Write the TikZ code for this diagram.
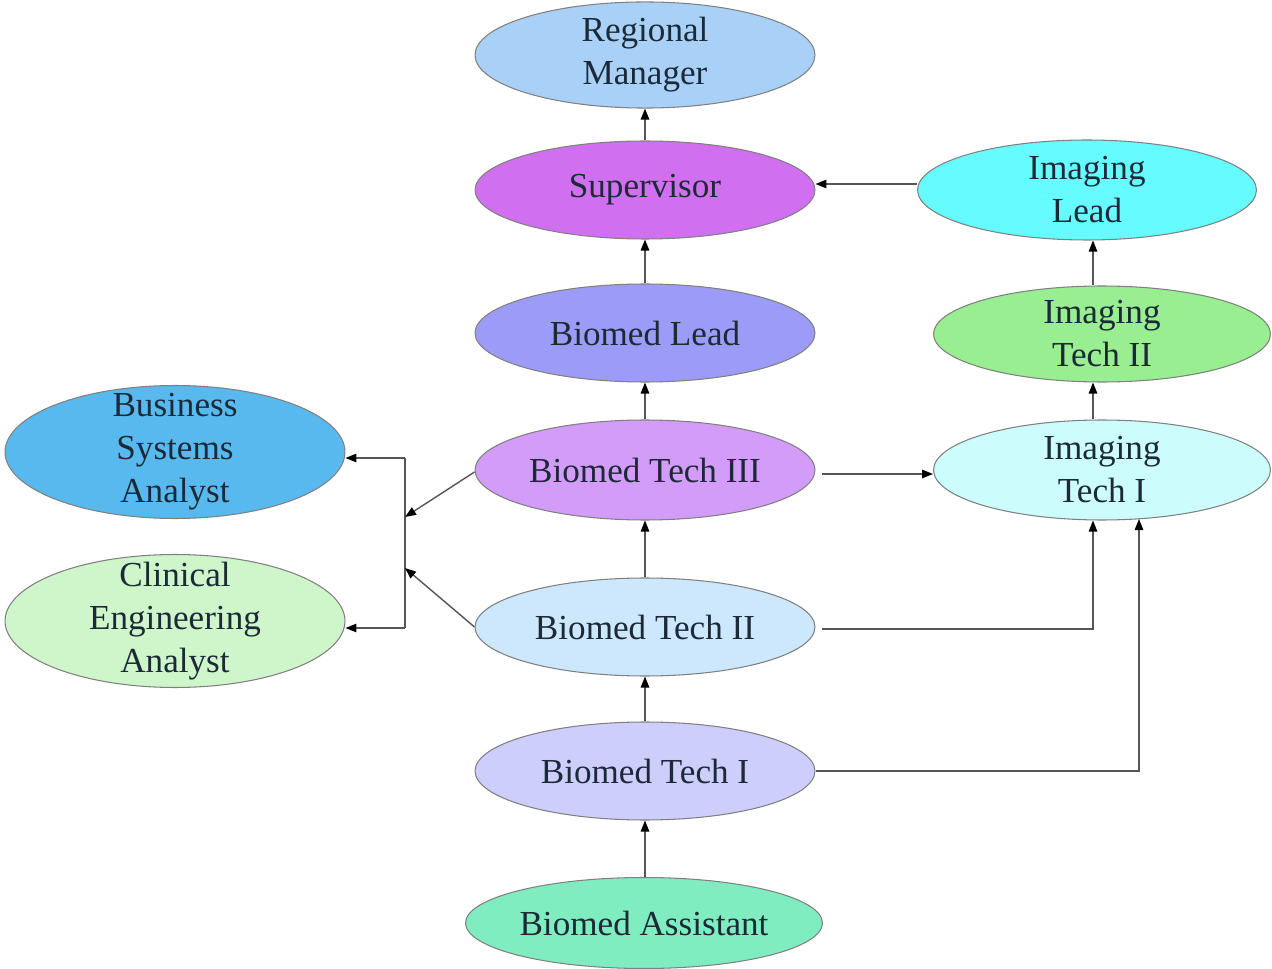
\documentclass[tikz,border=0pt]{standalone}
\usepackage{fontspec}
\setmainfont{Liberation Serif}
\usetikzlibrary{arrows.meta,shapes.geometric}
\definecolor{txtcol}{HTML}{1C2A38}
\definecolor{edgecol}{HTML}{555555}
\definecolor{rmfill}{HTML}{A9D1F7}
\definecolor{supfill}{HTML}{D070F0}
\definecolor{blfill}{HTML}{9C9CF8}
\definecolor{btiiifill}{HTML}{D29CF8}
\definecolor{btiifill}{HTML}{CDE8FC}
\definecolor{btifill}{HTML}{CECEFC}
\definecolor{bafill}{HTML}{80EDC0}
\definecolor{ilfill}{HTML}{66FCFF}
\definecolor{itiifill}{HTML}{98EE90}
\definecolor{itifill}{HTML}{CCFCFC}
\definecolor{bsafill}{HTML}{58B9EE}
\definecolor{ceafill}{HTML}{CEF6CA}
\tikzset{
    role/.style={ellipse, draw=black!50, line width=0.6pt, fill=#1, text=txtcol,
        align=center, inner sep=0pt, minimum width=6.8cm, minimum height=1.96cm,
        font=\fontsize{20}{24.5}\selectfont},
    tallrole/.style={role=#1, inner ysep=-0.27cm, minimum height=2.66cm},
    arr/.style={draw=edgecol, line width=0.8pt, -{Triangle[length=0.22cm, width=0.17cm, color=black]}},
}
\begin{document}
\begin{tikzpicture}[x=0.02cm, y=-0.02cm]
    \useasboundingbox (0,0) rectangle (1272,969);
    % central column
    \node[role=rmfill, minimum height=2cm] (rm) at (645,55) {Regional\\Manager};
    \node[role=supfill] (sup) at (645,190) {Supervisor};
    \node[role=blfill] (bl) at (645,333) {Biomed Lead};
    \node[role=btiiifill, minimum height=2cm] (bt3) at (645,470) {Biomed Tech III};
    \node[role=btiifill] (bt2) at (645,627) {Biomed Tech II};
    \node[role=btifill] (bt1) at (645,771) {Biomed Tech I};
    \node[role=bafill, minimum width=7.14cm, minimum height=1.82cm] (ba) at (644,923) {Biomed Assistant};
    % imaging column
    \node[role=ilfill, minimum width=6.78cm, minimum height=2cm] (il) at (1087,190) {Imaging\\Lead};
    \node[role=itiifill, minimum width=6.74cm, minimum height=1.92cm] (it2) at (1102,334) {Imaging\\Tech II};
    \node[role=itifill, minimum width=6.74cm, minimum height=2cm] (it1) at (1102,470) {Imaging\\Tech I};
    % analysts
    \node[tallrole=bsafill] (bsa) at (175,452) {Business\\Systems\\Analyst};
    \node[tallrole=ceafill] (cea) at (175,621) {Clinical\\Engineering\\Analyst};
    % junction on the left
    \coordinate (jtop) at (405,458);
    \coordinate (jbot) at (405,628);
    \coordinate (jin3) at (405,517);
    \coordinate (jin2) at (405,568);

    \draw[arr] (sup) -- (rm);
    \draw[arr] (bl) -- (sup);
    \draw[arr] (bt3) -- (bl);
    \draw[arr] (bt2) -- (bt3);
    \draw[arr] (bt1) -- (bt2);
    \draw[arr] (ba.north -| bt1) -- (bt1);
    \draw[arr] ([yshift=0.12cm]il.west) -- ([yshift=0.12cm]sup.east);
    \draw[arr] ([xshift=-0.18cm]it2.north) -- ([xshift=-0.18cm]it2.north |- il.south);
    \draw[arr] ([xshift=-0.18cm]it1.north) -- ([xshift=-0.18cm]it2.south);
    \draw[arr, shorten <=0.14cm] ([yshift=-0.08cm]bt3.east) -- ([yshift=-0.08cm]it1.west);
    \draw[arr, shorten <=0.14cm] ([yshift=-0.04cm]bt2.east) -| ([xshift=-0.18cm]it1.south);
    \draw[arr] (bt1.east) -| ([xshift=0.74cm, yshift=0.03cm]it1.south);
    \draw[edgecol, line width=0.8pt] (jtop) -- (jbot);
    \draw[arr] (jtop) -- (jtop -| bsa.east);
    \draw[arr] (jbot) -- (jbot -| cea.east);
    \draw[arr] ([yshift=-0.04cm]bt3.west) -- (jin3);
    \draw[arr] (bt2.west) -- (jin2);
\end{tikzpicture}
\end{document}
